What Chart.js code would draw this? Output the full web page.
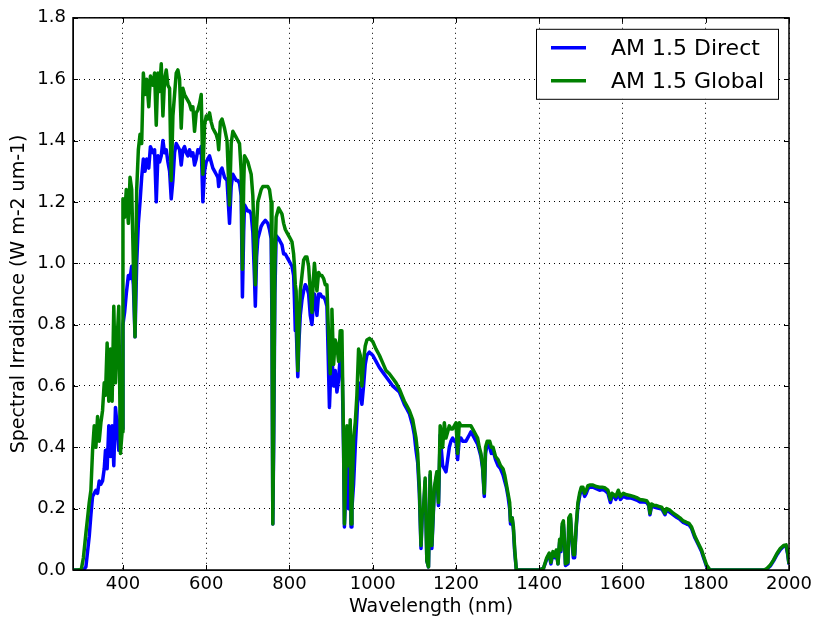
<!DOCTYPE html>
<html>
<head>
<meta charset="utf-8">
<script src="https://cdn.jsdelivr.net/npm/chart.js@4/dist/chart.umd.min.js"></script>
<style>
  html, body { margin: 0; padding: 0; background: #fff; }
  #wrap { width: 819px; height: 623px; }
</style>
</head>
<body>
<div id="wrap"><canvas id="spectrum" width="819" height="623"></canvas></div>
<script>
// wavelength samples (nm)
const wavelength = [
  280, 290, 300, 305, 311, 315, 319, 323, 327, 331, 335, 339, 343, 347, 351, 355, 358, 362, 366, 370,
  374, 378, 382, 386, 390, 394, 398, 400, 404, 408, 413, 417, 421, 425, 429, 433, 437, 441, 445, 449,
  453, 457, 462, 466, 472, 476, 480, 484, 488, 492, 496, 500, 504, 508, 512, 516, 520, 524, 528, 532,
  536, 540, 544, 548, 552, 556, 560, 564, 568, 572, 576, 580, 584, 588, 592, 596, 600, 604, 608, 612,
  616, 620, 624, 628, 630, 634, 638, 644, 650, 656, 660, 664, 668, 672, 676, 680, 684, 687, 690, 692,
  696, 700, 704, 708, 712, 716, 718, 721, 724, 728, 732, 736, 742, 748, 752, 756, 758, 760, 762, 765,
  768, 774, 778, 782, 786, 790, 794, 798, 802, 806, 810, 812, 814, 816, 820, 823, 826, 830, 834, 838,
  842, 846, 850, 854, 857, 860, 863, 866, 870, 874, 878, 882, 886, 890, 893, 896, 898, 900, 902, 906,
  910, 914, 918, 922, 926, 930, 932, 935, 938, 942, 946, 948, 950, 954, 958, 962, 966, 970, 974, 978,
  982, 986, 992, 1000, 1008, 1016, 1024, 1032, 1040, 1048, 1056, 1064, 1070, 1076, 1082, 1088, 1096, 1100, 1104, 1108,
  1112, 1116, 1119, 1122, 1126, 1130, 1134, 1138, 1142, 1148, 1154, 1158, 1162, 1168, 1172, 1176, 1180, 1184, 1188, 1192,
  1196, 1200, 1204, 1208, 1212, 1216, 1224, 1232, 1236, 1240, 1248, 1252, 1256, 1260, 1264, 1268, 1271, 1275, 1281, 1285,
  1289, 1295, 1301, 1307, 1313, 1317, 1321, 1325, 1329, 1331, 1335, 1338, 1341, 1345, 1400, 1410, 1418, 1424, 1428, 1433,
  1438, 1441, 1445, 1449, 1452, 1455, 1458, 1461, 1463, 1469, 1471, 1475, 1478, 1482, 1485, 1489, 1493, 1497, 1501, 1505,
  1509, 1513, 1517, 1521, 1529, 1537, 1545, 1551, 1557, 1565, 1571, 1575, 1580, 1584, 1590, 1595, 1602, 1610, 1618, 1626,
  1634, 1642, 1650, 1658, 1663, 1666, 1670, 1676, 1682, 1690, 1694, 1702, 1706, 1714, 1722, 1730, 1738, 1746, 1754, 1760,
  1766, 1774, 1782, 1790, 1796, 1802, 1810, 1940, 1947, 1955, 1963, 1971, 1979, 1987, 1993, 1997, 2000
];

// AM 1.5 Direct (W m-2 nm-1)
const directIrr = [
  0, 0, 0, 0, 0.01, 0.06, 0.11, 0.18, 0.24, 0.25, 0.26, 0.25, 0.29, 0.28, 0.29, 0.33, 0.39, 0.33, 0.47, 0.37,
  0.47, 0.34, 0.53, 0.47, 0.39, 0.52, 0.46, 0.80, 0.84, 0.90, 0.96, 0.95, 0.99, 0.93, 0.76, 1.00, 1.13, 1.20, 1.28, 1.34,
  1.30, 1.34, 1.31, 1.38, 1.36, 1.37, 1.20, 1.35, 1.33, 1.35, 1.40, 1.36, 1.37, 1.33, 1.30, 1.21, 1.27, 1.36, 1.39, 1.38,
  1.37, 1.32, 1.37, 1.38, 1.36, 1.35, 1.37, 1.35, 1.36, 1.32, 1.34, 1.37, 1.36, 1.38, 1.20, 1.30, 1.33, 1.34, 1.35, 1.33,
  1.31, 1.30, 1.29, 1.28, 1.25, 1.30, 1.31, 1.28, 1.27, 1.13, 1.25, 1.29, 1.28, 1.27, 1.27, 1.26, 1.22, 0.89, 1.10, 1.19,
  1.18, 1.17, 1.17, 1.16, 1.10, 0.95, 0.86, 1.02, 1.08, 1.10, 1.12, 1.13, 1.14, 1.13, 1.11, 1.08, 0.80, 0.15, 0.40, 0.90,
  1.09, 1.08, 1.07, 1.06, 1.03, 1.03, 1.02, 1.01, 1.00, 0.99, 0.96, 0.88, 0.78, 0.80, 0.63, 0.75, 0.83, 0.88, 0.91, 0.93,
  0.92, 0.90, 0.83, 0.80, 0.86, 0.90, 0.87, 0.83, 0.90, 0.90, 0.89, 0.89, 0.88, 0.86, 0.70, 0.53, 0.60, 0.62, 0.70, 0.60,
  0.65, 0.58, 0.62, 0.70, 0.70, 0.39, 0.14, 0.25, 0.40, 0.20, 0.40, 0.14, 0.20, 0.28, 0.40, 0.50, 0.61, 0.58, 0.54, 0.60,
  0.67, 0.70, 0.71, 0.70, 0.68, 0.66, 0.645, 0.63, 0.615, 0.60, 0.59, 0.58, 0.56, 0.54, 0.525, 0.51, 0.47, 0.44, 0.39, 0.35,
  0.25, 0.07, 0.18, 0.19, 0.29, 0.03, 0.01, 0.31, 0.07, 0.26, 0.31, 0.21, 0.44, 0.34, 0.33, 0.32, 0.36, 0.40, 0.42, 0.43,
  0.42, 0.42, 0.36, 0.43, 0.43, 0.42, 0.42, 0.44, 0.45, 0.44, 0.42, 0.41, 0.39, 0.37, 0.33, 0.24, 0.38, 0.41, 0.40, 0.38,
  0.39, 0.36, 0.34, 0.33, 0.31, 0.29, 0.27, 0.24, 0.20, 0.15, 0.17, 0.13, 0.06, 0, 0, 0.005, 0.035, 0.05, 0.02, 0.055,
  0.04, 0.06, 0.02, 0.09, 0.06, 0.14, 0.15, 0.08, 0.015, 0.02, 0.16, 0.17, 0.10, 0.04, 0.04, 0.14, 0.21, 0.24, 0.265, 0.26,
  0.24, 0.25, 0.265, 0.27, 0.27, 0.265, 0.26, 0.262, 0.26, 0.25, 0.22, 0.24, 0.24, 0.23, 0.25, 0.23, 0.24, 0.235, 0.235, 0.232,
  0.228, 0.222, 0.222, 0.22, 0.21, 0.18, 0.21, 0.205, 0.203, 0.20, 0.20, 0.18, 0.195, 0.188, 0.18, 0.172, 0.165, 0.155, 0.15, 0.147,
  0.135, 0.105, 0.083, 0.06, 0.035, 0.012, 0, 0, 0.003, 0.013, 0.03, 0.05, 0.066, 0.077, 0.078, 0.05, 0.018
];

// AM 1.5 Global (W m-2 nm-1)
const globalIrr = [
  0, 0, 0.002, 0.04, 0.12, 0.17, 0.22, 0.26, 0.39, 0.47, 0.40, 0.50, 0.42, 0.48, 0.52, 0.61, 0.57, 0.74, 0.55, 0.72,
  0.55, 0.86, 0.61, 0.75, 0.86, 0.38, 0.45, 1.21, 1.15, 1.24, 1.13, 1.28, 1.24, 1.00, 0.76, 1.24, 1.37, 1.42, 1.39, 1.62,
  1.55, 1.60, 1.51, 1.61, 1.58, 1.62, 1.45, 1.62, 1.56, 1.65, 1.48, 1.60, 1.63, 1.58, 1.57, 1.27, 1.48, 1.55, 1.62, 1.63,
  1.60, 1.44, 1.57, 1.55, 1.54, 1.53, 1.52, 1.50, 1.51, 1.43, 1.49, 1.50, 1.52, 1.55, 1.29, 1.45, 1.48, 1.47, 1.49, 1.46,
  1.44, 1.43, 1.42, 1.40, 1.37, 1.46, 1.47, 1.44, 1.40, 1.19, 1.39, 1.43, 1.42, 1.41, 1.40, 1.39, 1.30, 0.98, 1.25, 1.35,
  1.34, 1.33, 1.31, 1.29, 1.22, 1.05, 0.93, 1.12, 1.20, 1.22, 1.24, 1.25, 1.25, 1.25, 1.24, 1.20, 0.90, 0.15, 0.45, 1.00,
  1.15, 1.18, 1.17, 1.16, 1.13, 1.11, 1.10, 1.09, 1.08, 1.07, 1.03, 0.99, 0.93, 0.91, 0.65, 0.80, 0.91, 0.96, 1.01, 1.02,
  1.02, 0.99, 0.91, 0.84, 0.94, 1.00, 0.95, 0.91, 0.97, 0.96, 0.96, 0.95, 0.93, 0.93, 0.80, 0.70, 0.64, 0.74, 0.85, 0.67,
  0.75, 0.73, 0.68, 0.78, 0.78, 0.41, 0.15, 0.30, 0.47, 0.34, 0.49, 0.15, 0.20, 0.43, 0.48, 0.57, 0.72, 0.70, 0.60, 0.68,
  0.73, 0.75, 0.755, 0.745, 0.72, 0.70, 0.675, 0.65, 0.64, 0.625, 0.61, 0.59, 0.57, 0.55, 0.535, 0.52, 0.49, 0.46, 0.43, 0.38,
  0.27, 0.08, 0.19, 0.20, 0.30, 0.03, 0.01, 0.32, 0.08, 0.27, 0.32, 0.22, 0.47, 0.40, 0.48, 0.43, 0.45, 0.47, 0.46, 0.46,
  0.47, 0.48, 0.38, 0.48, 0.47, 0.47, 0.47, 0.47, 0.47, 0.46, 0.44, 0.43, 0.40, 0.38, 0.34, 0.25, 0.40, 0.42, 0.42, 0.40,
  0.40, 0.37, 0.36, 0.34, 0.33, 0.31, 0.28, 0.25, 0.22, 0.16, 0.17, 0.14, 0.07, 0, 0, 0.005, 0.04, 0.055, 0.025, 0.06,
  0.045, 0.065, 0.02, 0.10, 0.065, 0.15, 0.16, 0.09, 0.02, 0.025, 0.17, 0.18, 0.11, 0.05, 0.05, 0.15, 0.22, 0.25, 0.27, 0.27,
  0.25, 0.26, 0.275, 0.277, 0.277, 0.272, 0.27, 0.27, 0.268, 0.26, 0.23, 0.25, 0.245, 0.24, 0.26, 0.24, 0.25, 0.245, 0.243, 0.24,
  0.236, 0.23, 0.228, 0.226, 0.215, 0.185, 0.215, 0.21, 0.21, 0.206, 0.205, 0.185, 0.20, 0.195, 0.185, 0.178, 0.17, 0.16, 0.155, 0.152,
  0.14, 0.11, 0.087, 0.065, 0.04, 0.016, 0, 0, 0.005, 0.016, 0.033, 0.054, 0.07, 0.08, 0.082, 0.054, 0.02
];

const xTicks = [400, 600, 800, 1000, 1200, 1400, 1600, 1800, 2000];
const yTicks = [0, 0.2, 0.4, 0.6, 0.8, 1.0, 1.2, 1.4, 1.6, 1.8];
const seriesNames = ['AM 1.5 Direct', 'AM 1.5 Global'];
const seriesColors = ['#0000ff', '#008000'];

const FONT = 'DejaVu Sans';

function toPoints(values) {
    return wavelength.map((w, i) => ({ x: w, y: values[i] }));
}

// matplotlib style: full frame plus small inward tick marks on all four sides
const framePlugin = {
    id: 'frame',
    afterDraw(chart) {
        const { ctx, chartArea: a, scales } = chart;
        ctx.save();
        ctx.setLineDash([]);
        ctx.strokeStyle = '#000';
        ctx.lineWidth = 1;
        ctx.beginPath();
        xTicks.forEach(v => {
            const px = Math.round(scales.x.getPixelForValue(v)) + 0.5;
            ctx.moveTo(px, a.bottom); ctx.lineTo(px, a.bottom - 5);
            ctx.moveTo(px, a.top); ctx.lineTo(px, a.top + 5);
        });
        yTicks.forEach(v => {
            const py = Math.round(scales.y.getPixelForValue(v)) + 0.5;
            ctx.moveTo(a.left, py); ctx.lineTo(a.left + 5, py);
            ctx.moveTo(a.right, py); ctx.lineTo(a.right - 5, py);
        });
        ctx.stroke();
        ctx.lineWidth = 1.5;
        ctx.strokeRect(a.left, a.top, a.right - a.left, a.bottom - a.top);
        ctx.restore();
    }
};

// legend box in the upper right corner of the plot
const legendPlugin = {
    id: 'boxLegend',
    afterDraw(chart) {
        const { ctx, chartArea: a } = chart;
        const w = 242, h = 70;
        const left = a.right - 11 - w;
        const top = a.top + 11;
        ctx.save();
        ctx.fillStyle = '#fff';
        ctx.fillRect(left, top, w, h);
        ctx.strokeStyle = '#000';
        ctx.lineWidth = 1;
        ctx.setLineDash([]);
        ctx.strokeRect(left + 0.5, top + 0.5, w, h);
        ctx.font = '22px "' + FONT + '"';
        ctx.textBaseline = 'middle';
        seriesNames.forEach((name, i) => {
            const y = top + 19 + i * 33;
            ctx.strokeStyle = seriesColors[i];
            ctx.lineWidth = 3.5;
            ctx.beginPath();
            ctx.moveTo(left + 15, y);
            ctx.lineTo(left + 50, y);
            ctx.stroke();
            ctx.fillStyle = '#000';
            ctx.fillText(name, left + 75, y + 1);
        });
        ctx.restore();
    }
};

new Chart(document.getElementById('spectrum'), {
    type: 'line',
    data: {
        datasets: [
            {
                label: seriesNames[0],
                data: toPoints(directIrr),
                borderColor: seriesColors[0],
                borderWidth: 3.5,
                pointRadius: 0,
                tension: 0,
                borderJoinStyle: 'round',
                fill: false,
                order: 1
            },
            {
                label: seriesNames[1],
                data: toPoints(globalIrr),
                borderColor: seriesColors[1],
                borderWidth: 3.5,
                pointRadius: 0,
                tension: 0,
                borderJoinStyle: 'round',
                fill: false,
                order: 0
            }
        ]
    },
    options: {
        responsive: false,
        animation: false,
        layout: { padding: { top: 17, right: 30, left: 0, bottom: 0 } },
        plugins: {
            legend: { display: false },
            tooltip: { enabled: false }
        },
        scales: {
            x: {
                type: 'linear',
                min: 280,
                max: 2000,
                afterBuildTicks: scale => { scale.ticks = xTicks.map(v => ({ value: v })); },
                afterFit: scale => { scale.height = 53; },
                grid: { color: '#000', lineWidth: 1, drawTicks: false },
                border: { display: true, color: '#000', width: 1, dash: [1, 4] },
                ticks: {
                    color: '#000',
                    padding: 4,
                    maxRotation: 0,
                    font: { family: FONT, size: 18 },
                    callback: v => String(v)
                },
                title: {
                    display: true,
                    text: 'Wavelength (nm)',
                    color: '#000',
                    padding: { top: 0, bottom: 5 },
                    font: { family: FONT, size: 19 }
                }
            },
            y: {
                min: 0,
                max: 1.8,
                afterBuildTicks: scale => { scale.ticks = yTicks.map(v => ({ value: v })); },
                afterFit: scale => { scale.width = 73; },
                grid: { color: '#000', lineWidth: 1, drawTicks: false },
                border: { display: true, color: '#000', width: 1, dash: [1, 4] },
                ticks: {
                    color: '#000',
                    padding: 7,
                    font: { family: FONT, size: 18 },
                    callback: v => v.toFixed(1)
                },
                title: {
                    display: true,
                    text: 'Spectral Irradiance (W m-2 um-1)',
                    color: '#000',
                    padding: { top: 8, bottom: 0 },
                    font: { family: FONT, size: 19 }
                }
            }
        }
    },
    plugins: [framePlugin, legendPlugin]
});
</script>
</body>
</html>
